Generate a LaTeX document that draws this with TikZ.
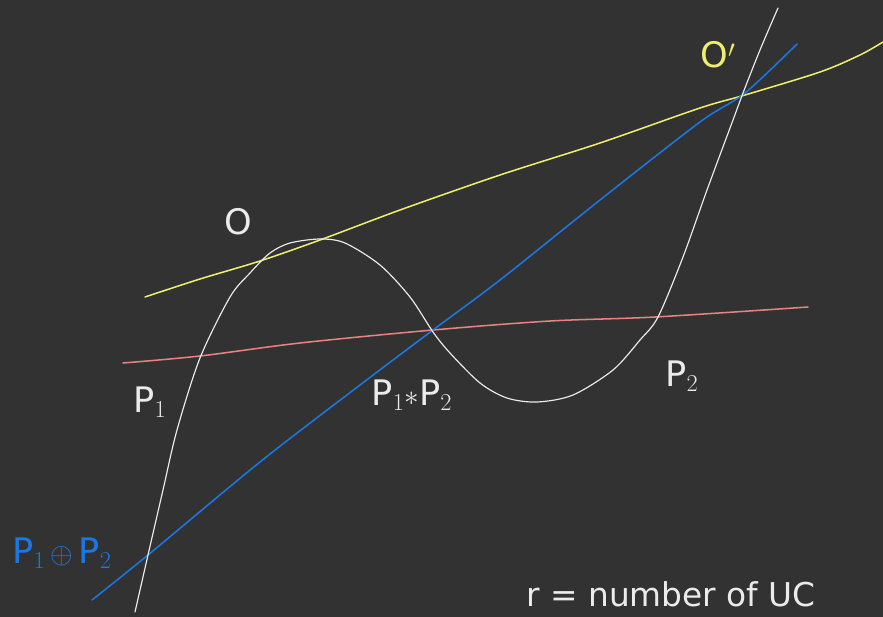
\documentclass[tikz,border=0pt]{standalone}
\usepackage{fontspec}
\setsansfont{DejaVu Sans}
\usetikzlibrary{positioning}

\definecolor{board}{RGB}{50,50,50}
\definecolor{chalkyellow}{RGB}{240,238,110}
\definecolor{chalkblue}{RGB}{25,120,230}
\definecolor{chalkred}{RGB}{235,130,130}
\definecolor{chalkwhite}{RGB}{235,235,235}

\begin{document}
\begin{tikzpicture}[
    x=0.03cm, y=-0.03cm,
    every node/.style={font=\sffamily\fontsize{30}{34}\selectfont},
    curve/.style={line width=1.3pt, line cap=round, line join=round},
    hand text/.style={text=chalkwhite, inner sep=1pt}
]

% Board
\fill[board] (0,0) rectangle (883,617);
\useasboundingbox (0,0) rectangle (883,617);

% Lines
\draw[curve, chalkred] plot[smooth] coordinates {(123,363) (200,356) (300,343) (433,330) (550,321) (655,317) (808,307)};
\draw[curve, chalkyellow] plot[smooth] coordinates {(145,297) (200,279) (260,261) (320,240) (400,210) (500,175) (600,143) (700,108) (745,95) (820,72) (860,55) (883,42)};
\draw[curve, chalkblue] plot[smooth] coordinates {(92,600) (148,555) (260,462) (360,385) (433,330) (500,280) (600,200) (700,122) (745,93) (797,44)};

% Curve
\draw[curve, chalkwhite, line width=1pt] plot[smooth, tension=0.5] coordinates {(135,612) (148,555) (163,490) (177,430) (200,358) (230,297) (250,273) (270,253) (290,243) (320,239) (345,243) (380,265) (410,297) (433,332) (450,353) (480,383) (507,398) (537,402) (573,395) (613,370) (640,340) (658,317) (683,257) (707,190) (733,120) (743,93) (760,50) (778,8)};

% Labels
\node[hand text] (o) at (238,222) {O};
\node[hand text, text=chalkyellow] (oprime) at (718,55) {O$'$};
\node[hand text] (p1) at (150,402) {P$_1$};
\node[hand text] (p1p2) at (412,395) {P$_1{*}$P$_2$};
\node[hand text] (p2) at (682,376) {P$_2$};
\node[hand text, text=chalkblue] (psum) at (62,553) {P$_1\,\oplus$\,P$_2$};
\node[hand text, anchor=west, font=\sffamily\fontsize{28}{32}\selectfont] (rank) at (525,594) {r = number of UC};

\end{tikzpicture}
\end{document}
